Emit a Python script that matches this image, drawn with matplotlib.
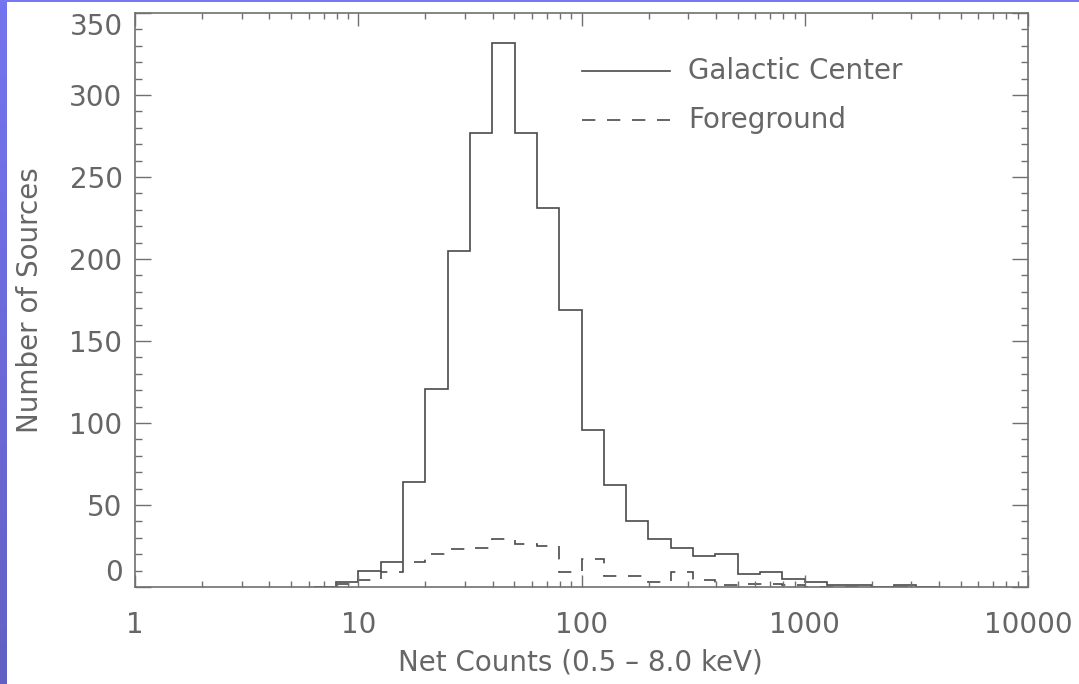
import numpy as np
import matplotlib
matplotlib.use("Agg")
import matplotlib.pyplot as plt
from matplotlib.colors import LinearSegmentedColormap

# log10 bin edges (0.1 dex bins) and counts per bin
log_edges = np.round(np.arange(0.8, 3.65, 0.1), 1)
galactic_center = [0, 3, 10, 15, 64, 121, 205, 277, 332, 277, 231, 169, 96, 62,
                   40, 29, 24, 19, 20, 8, 9, 5, 3, 1, 1, 0, 1, 0]
foreground = [0, 2, 4, 9, 15, 20, 23, 24, 29, 26, 25, 9, 17, 7,
              7, 3, 9, 4, 1, 2, 2, 1, 0, 0, 0, 0, 0, 0]

x_ticks = [1, 10, 100, 1000, 10000]
x_tick_labels = ["1", "10", "100", "1000", "10000"]
y_ticks = [0, 50, 100, 150, 200, 250, 300, 350]

W, H = 1079, 684
ink = "#4a4a4a"
txt = "#666666"
fs = 20

plt.rcParams['font.family'] = ['DejaVu Sans']

fig = plt.figure(figsize=(W / 100, H / 100), dpi=100)
fig.patch.set_facecolor("white")

# slide frame: purple band on the left, thin blue line on top
band = fig.add_axes([0, 0, 7 / W, 1])
grad = LinearSegmentedColormap.from_list('frame', ['#7474ee', '#6360c4'])
band.imshow(np.linspace(0, 1, 100).reshape(-1, 1), cmap=grad, aspect='auto')
band.axis('off')
top = fig.add_axes([0, 1 - 2 / H, 1, 2 / H])
top.set_facecolor('#7878f0')
for s in top.spines.values():
    s.set_visible(False)
top.set_xticks([])
top.set_yticks([])

ax = fig.add_axes([135 / W, 1 - 587 / H, (1028 - 135) / W, (587 - 13) / H])
ax.set_facecolor("white")

edges = 10 ** log_edges
ax.stairs(galactic_center, edges, baseline=None, color=ink, lw=1.2)
ax.stairs(foreground, edges, baseline=None, color=ink, lw=1.2,
          linestyle=(0, (8, 7)))

ax.set_xscale('log')
ax.set_xlim(1, 10000)
ax.set_ylim(0, 350)
ax.set_xticks(x_ticks)
ax.set_xticklabels(x_tick_labels)
ax.set_yticks(y_ticks)
ax.yaxis.set_minor_locator(matplotlib.ticker.MultipleLocator(10))

for s in ax.spines.values():
    s.set_color("#707070")
    s.set_linewidth(1.2)

ax.tick_params(axis='both', which='both', direction='in', top=True, right=True,
               colors="#707070", labelcolor=txt, labelsize=fs, width=1.0)
ax.tick_params(axis='x', which='major', length=9, pad=17)
ax.tick_params(axis='x', which='minor', length=4)
ax.tick_params(axis='y', which='major', length=11.5, pad=9)
ax.tick_params(axis='y', which='minor', length=5)

ylabels = ax.get_yticklabels()
ylabels[0].set_va('bottom')
ylabels[-1].set_va('top')

fig.text(580 / W, 1 - 662 / H, "Net Counts (0.5 \u2013 8.0 keV)",
         ha='center', va='center', fontsize=fs, color=txt)
fig.text(30 / W, 1 - 300 / H, "Number of Sources", rotation=90,
         ha='center', va='center', fontsize=fs, color=txt)

# legend drawn in axes coordinates
ax.plot([0.5006, 0.5991], [0.899, 0.899], transform=ax.transAxes,
        color=ink, lw=1.2, clip_on=False)
ax.plot([0.5006, 0.5991], [0.8136, 0.8136], transform=ax.transAxes,
        color=ink, lw=1.2, linestyle=(0, (8, 7)), clip_on=False)
ax.text(0.6193, 0.899, "Galactic Center", transform=ax.transAxes,
        va='center', ha='left', fontsize=fs, color=txt)
ax.text(0.6193, 0.8136, "Foreground", transform=ax.transAxes,
        va='center', ha='left', fontsize=fs, color=txt)

fig.savefig("out.png", dpi=100)
